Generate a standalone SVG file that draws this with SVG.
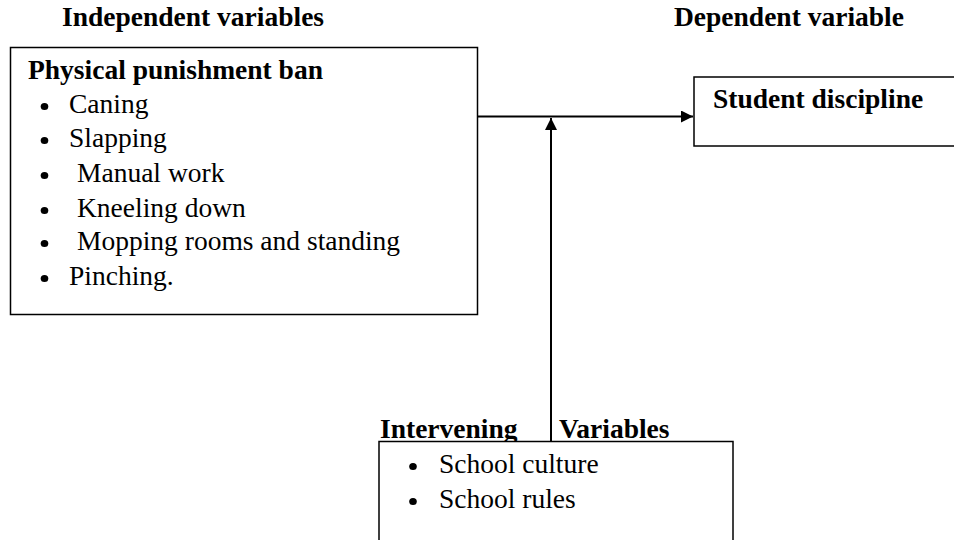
<svg xmlns="http://www.w3.org/2000/svg" width="954" height="540" viewBox="0 0 954 540">
  <style>
    .b { font-weight: bold; }
    .box { fill: #fff; stroke: #000; stroke-width: 1.5; }
    .ln { stroke: #000; stroke-width: 2; fill: none; }
    .dot { fill: #000; }
  </style>
  <defs>
    <marker id="arr" viewBox="0 0 12 12" refX="12" refY="6" markerWidth="12" markerHeight="12" markerUnits="userSpaceOnUse" orient="auto">
      <path d="M0,0 L12,6 L0,12 Z" fill="#000"/>
    </marker>
  </defs>
  <rect width="954" height="540" fill="#fff"/>

  <g font-family="Liberation Serif" font-size="27.5" fill="#000">
  <text class="b" x="62" y="26">Independent variables</text>
  <text class="b" x="674" y="26">Dependent variable</text>

  <g id="independent">
    <rect class="box" x="10.5" y="47.5" width="467" height="267"/>
    <text class="b" x="28" y="79">Physical punishment ban</text>
    <ellipse class="dot" cx="44.5" cy="106.5" rx="3.8" ry="3.6"/>
    <text x="69" y="113">Caning</text>
    <ellipse class="dot" cx="44.5" cy="140.5" rx="3.8" ry="3.6"/>
    <text x="69" y="147">Slapping</text>
    <ellipse class="dot" cx="44.5" cy="175.5" rx="3.8" ry="3.6"/>
    <text x="77" y="182">Manual work</text>
    <ellipse class="dot" cx="44.5" cy="210.5" rx="3.8" ry="3.6"/>
    <text x="77" y="217">Kneeling down</text>
    <ellipse class="dot" cx="44.5" cy="243.5" rx="3.8" ry="3.6"/>
    <text x="77" y="250">Mopping rooms and standing</text>
    <ellipse class="dot" cx="44.5" cy="278.5" rx="3.8" ry="3.6"/>
    <text x="69" y="285">Pinching.</text>
  </g>

  <g id="dependent">
    <rect class="box" x="694" y="77" width="270" height="69"/>
    <text class="b" x="713" y="108">Student discipline</text>
  </g>

  <g id="intervening">
    <text class="b" x="380" y="438">Intervening</text>
    <text class="b" x="559" y="438">Variables</text>
    <rect class="box" x="379" y="441.5" width="354" height="110"/>
    <ellipse class="dot" cx="413" cy="466.5" rx="3.8" ry="3.6"/>
    <text x="439" y="473">School culture</text>
    <ellipse class="dot" cx="413" cy="501.5" rx="3.8" ry="3.6"/>
    <text x="439" y="508">School rules</text>
  </g>
  </g>

  <g id="connectors">
    <line class="ln" x1="478" y1="116.5" x2="693" y2="116.5" marker-end="url(#arr)"/>
    <line class="ln" x1="551" y1="441" x2="551" y2="118" marker-end="url(#arr)"/>
  </g>
</svg>
